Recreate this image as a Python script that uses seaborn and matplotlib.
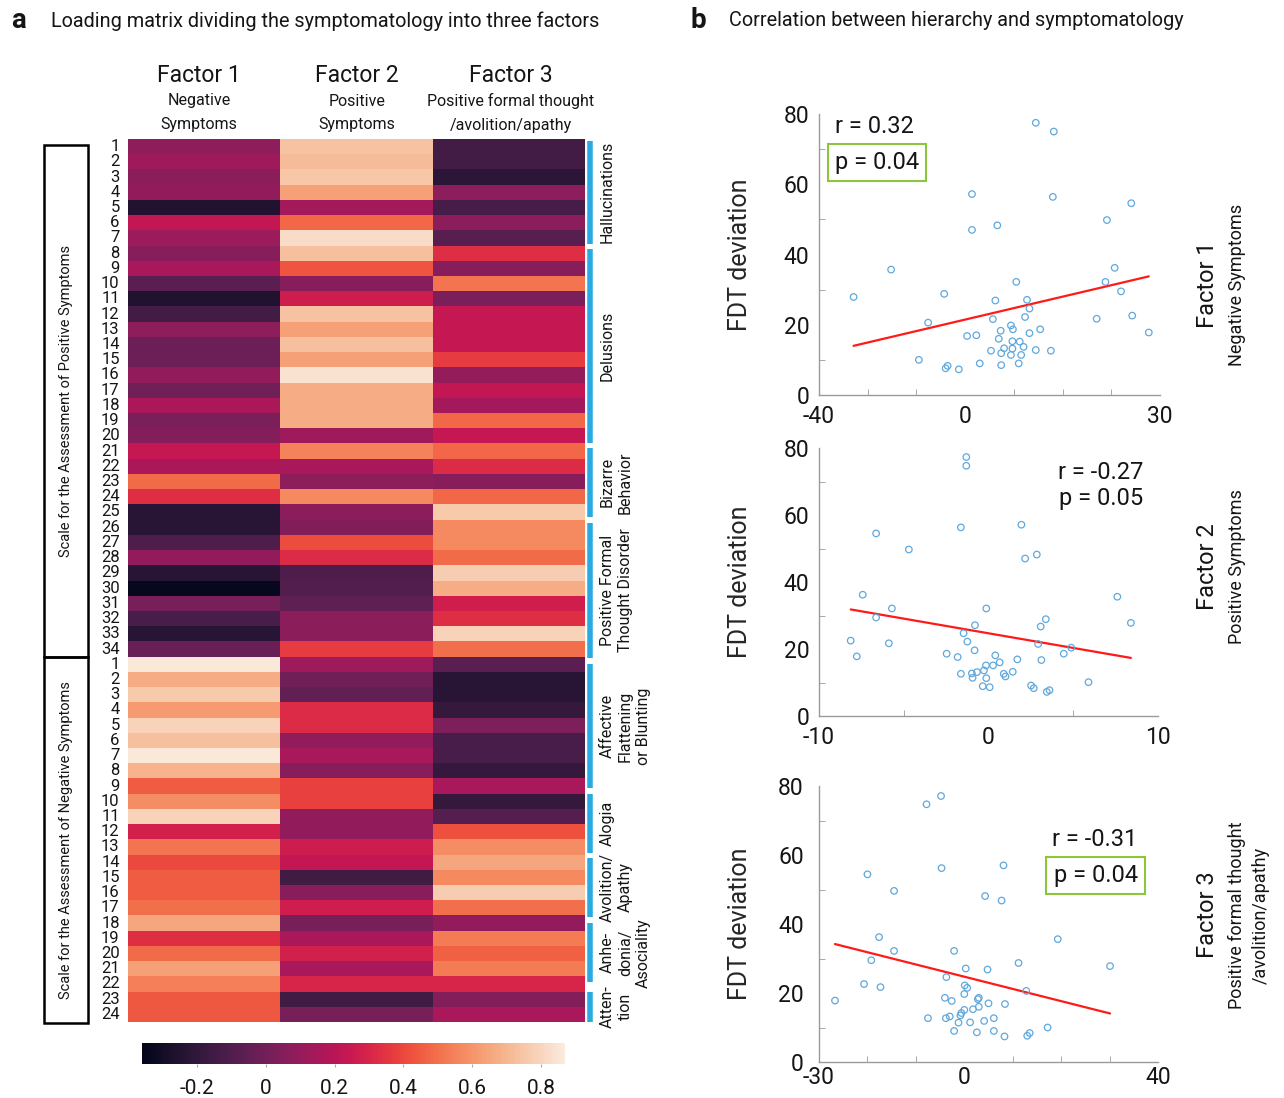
import matplotlib.pyplot as plt
import matplotlib.transforms as mtransforms
from matplotlib.patches import Rectangle
from matplotlib.ticker import FixedLocator
import pandas as pd
import seaborn as sns

# ---------------- panel a : loading matrix ----------------
saps_items = list(range(1, 35))   # Scale for the Assessment of Positive Symptoms
sans_items = list(range(1, 25))   # Scale for the Assessment of Negative Symptoms

factor1 = [0.08, 0.13, 0.07, 0.09, -0.25, 0.23, 0.12, 0.06, 0.15, -0.07,
           -0.25, -0.14, 0.08, -0.02, -0.02, 0.09, 0.00, 0.16, 0.02, 0.05,
           0.24, 0.16, 0.49, 0.33, -0.23, -0.23, -0.11, 0.09, -0.23, -0.34,
           0.01, -0.12, -0.23, -0.03,
           0.86, 0.67, 0.76, 0.62, 0.79, 0.73, 0.86, 0.69, 0.45, 0.58,
           0.79, 0.28, 0.51, 0.40, 0.45, 0.45, 0.50, 0.65, 0.33, 0.49,
           0.63, 0.54, 0.44, 0.44]
factor2 = [0.74, 0.72, 0.75, 0.63, 0.14, 0.48, 0.82, 0.73, 0.43, 0.06,
           0.26, 0.74, 0.63, 0.73, 0.63, 0.84, 0.67, 0.67, 0.67, 0.13,
           0.55, 0.15, 0.08, 0.57, 0.07, 0.04, 0.41, 0.32, -0.11, -0.10,
           -0.06, 0.07, 0.07, 0.37,
           0.13, 0.00, -0.05, 0.32, 0.32, 0.09, 0.15, 0.06, 0.38, 0.38,
           0.09, 0.09, 0.26, 0.23, -0.15, 0.06, 0.27, 0.01, 0.16, 0.28,
           0.15, 0.30, -0.15, 0.01]
factor3 = [-0.14, -0.14, -0.22, 0.08, -0.13, 0.07, -0.08, 0.33, 0.06, 0.51,
           0.02, 0.24, 0.24, 0.24, 0.37, 0.10, 0.23, 0.14, 0.48, 0.24,
           0.48, 0.32, 0.06, 0.48, 0.76, 0.57, 0.57, 0.49, 0.77, 0.67,
           0.27, 0.33, 0.79, 0.50,
           -0.07, -0.23, -0.23, -0.19, 0.03, -0.12, -0.12, -0.19, 0.15, -0.19,
           -0.09, 0.42, 0.58, 0.65, 0.57, 0.77, 0.50, 0.09, 0.53, 0.46,
           0.53, 0.30, 0.05, 0.15]

factor_names = ["Factor 1", "Factor 2", "Factor 3"]
factor_desc = ["Negative\nSymptoms", "Positive\nSymptoms",
               "Positive formal thought\n/avolition/apathy"]
scale_names = ["Scale for the Assessment of Positive Symptoms",
               "Scale for the Assessment of Negative Symptoms"]
domain_labels = ["Hallucinations", "Delusions", "Bizarre\nBehavior",
                 "Positive Formal\nThought Disorder",
                 "Affective\nFlattening\nor Blunting", "Alogia",
                 "Avolition/\nApathy", "Anhe-\ndonia/\nAsociality", "Atten-\ntion"]
# extent of each blue bracket, in heatmap rows
domain_spans = [(0.1, 6.9), (7.2, 20.0), (20.3, 24.8), (25.2, 34.1), (34.5, 42.6),
                (43.0, 46.9), (47.2, 51.1), (51.5, 55.4), (56.0, 58.0)]
cbar_ticks = [-0.2, 0, 0.2, 0.4, 0.6, 0.8]
cbar_ticklabels = ["-0.2", "0", "0.2", "0.4", "0.6", "0.8"]

# ---------------- panel b : hierarchy vs FDT deviation ----------------
f1_x = [-22.9, -15.2, -9.5, -7.6, -4.3, -4.0, -3.6, -1.3, 0.4, 2.3,
        1.4, 1.4, 3.0, 5.3, 5.7, 6.2, 6.6, 6.9, 7.3, 7.4,
        7.4, 8.0, 9.4, 9.4, 9.7, 9.7, 9.8, 10.5, 11.0, 11.2,
        11.5, 12.0, 12.3, 12.7, 13.2, 13.2, 14.5, 14.5, 15.4, 17.6,
        18.0, 18.2, 27.0, 28.8, 29.1, 30.7, 32.0, 34.1, 34.3, 37.7]
f1_y = [27.9, 35.7, 10.0, 20.6, 28.8, 7.6, 8.3, 7.3, 16.8, 17.0,
        57.2, 47.0, 9.0, 12.6, 21.6, 26.9, 48.3, 16.0, 18.3, 11.9,
        8.5, 13.3, 19.8, 11.4, 15.3, 13.2, 18.7, 32.2, 9.0, 15.2,
        11.4, 13.7, 22.2, 27.1, 24.6, 17.6, 77.5, 12.8, 18.7, 12.6,
        56.4, 75.0, 21.7, 32.2, 49.8, 36.2, 29.5, 54.6, 22.6, 17.8]

f2_x = [-8.13, -7.77, -7.42, -6.63, -6.63, -5.88, -5.70, -4.70, -2.47, -1.82,
        -1.63, -1.63, -1.47, -1.31, -1.31, -1.25, -0.98, -0.94, -0.82, -0.80,
        -0.68, -0.34, -0.27, -0.15, -0.13, -0.13, 0.07, 0.27, 0.40, 0.66,
        0.90, 1.00, 1.43, 1.70, 1.94, 2.16, 2.51, 2.67, 2.85, 2.93,
        3.08, 3.12, 3.38, 3.44, 3.60, 4.44, 4.88, 5.90, 7.60, 8.40]
f2_y = [22.5, 17.8, 36.2, 54.5, 29.4, 21.7, 32.1, 49.7, 18.6, 17.6,
        56.3, 12.6, 24.7, 77.3, 74.7, 22.2, 12.7, 11.4, 19.6, 27.1,
        13.1, 8.9, 13.6, 15.1, 32.1, 11.3, 8.6, 15.1, 18.1, 16.0,
        12.6, 11.8, 13.2, 16.9, 57.1, 47.0, 9.1, 8.3, 48.2, 21.5,
        26.7, 16.7, 28.9, 7.2, 7.7, 18.6, 20.4, 10.1, 35.6, 27.8]

f3_x = [-26.7, -20.7, -20.0, -19.2, -17.6, -17.3, -14.5, -14.5, -7.8, -7.5,
        -4.8, -4.7, -4.0, -3.8, -3.7, -3.0, -2.6, -2.1, -2.1, -1.2,
        -0.8, -0.6, 0.0, 0.0, 0.1, 0.3, 0.6, 1.2, 1.8, 2.6,
        2.8, 3.0, 3.0, 4.1, 4.3, 4.8, 5.0, 6.1, 6.1, 7.7,
        8.1, 8.3, 8.4, 11.2, 12.8, 13.0, 13.5, 17.2, 19.3, 30.1]
f3_y = [17.8, 22.6, 54.4, 29.5, 36.2, 21.7, 49.6, 32.2, 74.7, 12.7,
        77.1, 56.2, 18.6, 12.7, 24.6, 13.2, 17.7, 32.2, 9.0, 11.4,
        13.5, 14.2, 15.1, 19.7, 22.2, 27.1, 21.5, 11.5, 15.3, 8.6,
        18.2, 18.6, 16.0, 11.9, 48.1, 26.8, 17.0, 12.7, 9.0, 46.8,
        57.0, 7.4, 16.8, 28.7, 20.6, 7.6, 8.4, 10.0, 35.6, 27.8]

# tick labels as printed in the original panels
f1_xticklabels = ["-40", "0", "30"]
f2_xticklabels = ["-10", "0", "10"]
f3_xticklabels = ["-30", "0", "40"]
stats = [("r = 0.32", "p = 0.04", True), ("r = -0.27", "p = 0.05", False),
         ("r = -0.31", "p = 0.04", True)]
side_titles = ["Factor 1", "Factor 2", "Factor 3"]
side_desc = ["Negative Symptoms", "Positive Symptoms",
             "Positive formal thought\n/avolition/apathy"]

# ---------------- figure ----------------
sns.set_style("white")
FONT = "Roboto"
INK = "#151515"
plt.rcParams["font.family"] = [FONT, "DejaVu Sans"]
plt.rcParams["text.color"] = INK
plt.rcParams["xtick.color"] = INK
plt.rcParams["ytick.color"] = INK

W, H = 1284, 1098
fig = plt.figure(figsize=(W / 100, H / 100), dpi=100)


def fx(px):
    return px / W


def fy(py):
    return 1 - py / H


# panel titles
fig.text(fx(11), fy(21), "a", fontsize=20, fontweight="bold", va="center")
fig.text(fx(51), fy(21), "Loading matrix dividing the symptomatology into three factors",
         fontsize=14.3, va="center")
fig.text(fx(690), fy(21), "b", fontsize=20, fontweight="bold", va="center")
fig.text(fx(729), fy(21), "Correlation between hierarchy and symptomatology",
         fontsize=14.3, va="center")

# heatmap
loadings = pd.DataFrame({"Factor 1": factor1, "Factor 2": factor2, "Factor 3": factor3})
row_labels = [str(i) for i in saps_items + sans_items]

ax_hm = fig.add_axes([fx(128), fy(1022), fx(585) - fx(128), fy(139) - fy(1022)])
cax = fig.add_axes([fx(142), fy(1064), fx(565) - fx(142), fy(1043) - fy(1064)])
sns.heatmap(loadings, ax=ax_hm, cmap="rocket", vmin=-0.36, vmax=0.87,
            cbar_ax=cax, cbar_kws={"orientation": "horizontal", "ticks": cbar_ticks},
            xticklabels=False, yticklabels=row_labels)
ax_hm.tick_params(axis="y", length=0, pad=6, labelsize=12, rotation=0)

cbar = ax_hm.collections[0].colorbar
cbar.outline.set_visible(False)
cbar.set_ticks(cbar_ticks, labels=cbar_ticklabels)
cax.tick_params(length=2, color="#aaaaaa", labelcolor=INK, pad=9, labelsize=15)

# column headers
for xc, name, desc in zip([199, 357, 511], factor_names, factor_desc):
    fig.text(fx(xc), fy(75), name, fontsize=16.5, ha="center", va="center")
    fig.text(fx(xc), fy(113), desc, fontsize=11.5, ha="center", va="center",
             linespacing=1.75)

# blue domain brackets and labels on the right
trans = mtransforms.blended_transform_factory(ax_hm.transAxes, ax_hm.transData)
for (r0, r1), lab in zip(domain_spans, domain_labels):
    ax_hm.plot([1.011, 1.011], [r0, r1], transform=trans, color="#29abe2",
               lw=4, solid_capstyle="butt", clip_on=False)
    ax_hm.text(1.033, (r0 + r1) / 2, lab, transform=trans, rotation=90,
               ha="left", va="center", multialignment="center", fontsize=11.5,
               linespacing=1.25)

# left boxes naming the two scales
box_x0, box_x1 = (44 - 128) / 457, (88 - 128) / 457
for (r0, r1), name in zip([(0.37, 34.0), (34.0, 58.05)], scale_names):
    ax_hm.add_patch(Rectangle((box_x0, r0), box_x1 - box_x0, r1 - r0, transform=trans,
                              fill=False, ec="black", lw=1.8, clip_on=False))
    ax_hm.text((box_x0 + box_x1) / 2, (r0 + r1) / 2, name, transform=trans,
               rotation=90, ha="center", va="center", fontsize=10.5)

# scatter panels
panels = [
    (f1_x, f1_y, (-30, 40), [-30, 0, 40], f1_xticklabels, [-20, -10, 10, 20, 30],
     (819, 114, 1160, 395)),
    (f2_x, f2_y, (-10, 10), [-10, 0, 10], f2_xticklabels, [-5, 5],
     (819, 448, 1158, 716)),
    (f3_x, f3_y, (-30, 40), [-30, 0, 40], f3_xticklabels, [-20, -10, 10, 20, 30],
     (819, 786, 1158, 1062)),
]
text_spots = [((0.047, 0.957), (0.047, 0.826), "left"),
              ((0.956, 0.910), (0.956, 0.810), "right"),
              ((0.940, 0.805), (0.940, 0.677), "right")]
side_y = [285, 567, 915]
x_pads = [7, 7, 3]
y_pads = [7, 7, 11]

for i, (xs, ys, xlim, xt, xtl, xminor, box) in enumerate(panels):
    x0, y0, x1, y1 = box
    ax = fig.add_axes([fx(x0), fy(y1), fx(x1) - fx(x0), fy(y0) - fy(y1)])
    df = pd.DataFrame({"hier": xs, "fdt": ys})
    sns.regplot(data=df, x="hier", y="fdt", ax=ax, scatter=False, ci=None,
                color="#ff1a1a", line_kws={"lw": 1.6})
    sns.scatterplot(data=df, x="hier", y="fdt", ax=ax, s=22, fc="none",
                    ec="#5fa8dc", linewidth=0.9, zorder=3)
    ax.set_xlim(xlim)
    ax.set_ylim(0, 80)
    ax.set_xticks(xt, labels=xtl)
    ax.xaxis.set_minor_locator(FixedLocator(xminor))
    ax.set_yticks([0, 20, 40, 60, 80])
    ax.yaxis.set_minor_locator(FixedLocator([10, 30, 50, 70]))
    ax.tick_params(which="major", length=0, labelsize=16.5, labelcolor=INK)
    ax.tick_params(axis="x", which="major", pad=x_pads[i])
    ax.tick_params(axis="y", which="major", pad=y_pads[i])
    ax.tick_params(which="minor", length=4, direction="in", color="#9a9a9a",
                   bottom=True, left=True)
    for side in ["top", "right"]:
        ax.spines[side].set_visible(False)
    for side in ["left", "bottom"]:
        ax.spines[side].set_color("#9a9a9a")
        ax.spines[side].set_linewidth(1)
    ax.set_xlabel("")
    ax.set_ylabel("FDT deviation", fontsize=18)
    ax.yaxis.set_label_coords((752 - x0) / (x1 - x0), 0.5)

    r_txt, p_txt, signif = stats[i]
    (rx, ry), (px, py), ha = text_spots[i]
    ax.text(rx, ry, r_txt, transform=ax.transAxes, fontsize=17, ha=ha, va="center")
    bbox = dict(boxstyle="square,pad=0.3", fc="none", ec="#8cc63f", lw=1.5) if signif else None
    ax.text(px, py, p_txt, transform=ax.transAxes, fontsize=17, ha=ha, va="center",
            bbox=bbox)

    fig.text(fx(1208), fy(side_y[i]), side_titles[i], rotation=90, fontsize=17,
             ha="center", va="center")
    fig.text(fx(1237 if i < 2 else 1249), fy(side_y[i]), side_desc[i], rotation=90,
             fontsize=13, ha="center", va="center", multialignment="center",
             linespacing=1.45)

fig.savefig("out.png", dpi=100)
